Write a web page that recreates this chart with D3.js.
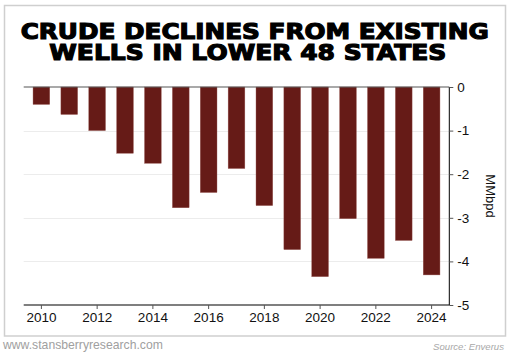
<!DOCTYPE html>
<html>
<head>
<meta charset="utf-8">
<script src="https://cdn.jsdelivr.net/npm/d3@7"></script>
<style>
  html, body { margin: 0; padding: 0; background: #fff; }
  svg { display: block; }
</style>
</head>
<body>
<svg id="chart" width="511" height="355"></svg>
<script>
const years = [2010, 2011, 2012, 2013, 2014, 2015, 2016, 2017, 2018, 2019, 2020, 2021, 2022, 2023, 2024];
const declines = [-0.40, -0.63, -1.00, -1.52, -1.75, -2.77, -2.42, -1.87, -2.72, -3.73, -4.35, -3.02, -3.93, -3.52, -4.31];
const yTicks = [0, -1, -2, -3, -4, -5];
const xTickYears = [2010, 2012, 2014, 2016, 2018, 2020, 2022, 2024];
const titleLines = ["CRUDE DECLINES FROM EXISTING", "WELLS IN LOWER 48 STATES"];
const yAxisLabel = "MMbpd";
const footerLeft = "www.stansberryresearch.com";
const footerRight = "Source: Enverus";

const svg = d3.select("#chart");
const plotLeft = 23.7, plotRight = 449.3, plotTop = 87, plotBottom = 305;

// frame
svg.append("rect").attr("x", 4.5).attr("y", 5.5).attr("width", 501).attr("height", 330.5)
  .attr("fill", "none").attr("stroke", "#cfcfcf").attr("stroke-width", 1.5);

// title (one text element, two lines)
const titleFont = "'DejaVu Sans', 'Liberation Sans', sans-serif";
const titleSpecs = [{y: 38.7, x0: 20.7, w: 468}, {y: 60, x0: 49.3, w: 397}];
const title = svg.append("text")
  .attr("font-family", titleFont).attr("font-weight", "bold").attr("font-size", 22)
  .attr("fill", "#000").attr("stroke", "#000").attr("stroke-width", 1.2);
titleLines.forEach((t, i) => {
  title.append("tspan")
    .attr("x", titleSpecs[i].x0).attr("y", titleSpecs[i].y)
    .attr("textLength", titleSpecs[i].w).attr("lengthAdjust", "spacingAndGlyphs")
    .text(t);
});

const x = d3.scaleBand().domain(years).range([plotLeft, plotRight]).paddingInner(0.4).paddingOuter(0.335);
const y = d3.scaleLinear().domain([-5, 0]).range([plotBottom, plotTop]);

// gridlines
svg.append("g").selectAll("line").data(yTicks.filter(d => d !== 0 && d !== -5)).join("line")
  .attr("x1", plotLeft).attr("x2", plotRight)
  .attr("y1", d => Math.round(y(d)) + 0.5).attr("y2", d => Math.round(y(d)) + 0.5)
  .attr("stroke", "#ececec").attr("stroke-width", 1);

// bars
svg.append("g").selectAll("rect").data(years).join("rect")
  .attr("x", d => x(d))
  .attr("width", x.bandwidth())
  .attr("y", y(0))
  .attr("height", (d, i) => y(declines[i]) - y(0))
  .attr("fill", "#661b17")
  .attr("stroke", "#9a5a56").attr("stroke-width", 0.4);

// zero line
svg.append("line").attr("x1", plotLeft).attr("x2", plotRight).attr("y1", y(0)).attr("y2", y(0))
  .attr("stroke", "#555").attr("stroke-width", 1.2);

// right y axis
const yAxis = d3.axisRight(y).tickValues(yTicks).tickSize(4).tickPadding(4).tickFormat(d3.format("d"));
const gy = svg.append("g").attr("transform", `translate(${plotRight},0)`).call(yAxis);
gy.select(".domain").attr("stroke", "#000").attr("d", `M0,${plotTop}V${plotBottom}`);
gy.selectAll(".tick line").attr("stroke", "#555");
gy.selectAll(".tick text").attr("font-family", "'Liberation Sans', Arial, sans-serif")
  .attr("font-size", 13.5).attr("fill", "#111").text(d => d === 0 ? "0" : "-" + Math.abs(d));

// x axis
const xPos = d => x(d) + x.bandwidth() / 2;
const gx = svg.append("g").attr("transform", `translate(0,${plotBottom})`);
gx.append("line").attr("x1", plotLeft).attr("x2", plotRight).attr("y1", 0).attr("y2", 0)
  .attr("stroke", "#000").attr("stroke-width", 1.2);
const xt = gx.selectAll("g.tk").data(xTickYears).join("g").attr("class", "tk")
  .attr("transform", d => `translate(${xPos(d)},0)`);
xt.append("line").attr("y1", 0).attr("y2", 4).attr("stroke", "#555");
xt.append("text").attr("y", 17.3).attr("text-anchor", "middle")
  .attr("font-family", "'Liberation Sans', Arial, sans-serif").attr("font-size", 13.5).attr("fill", "#111")
  .text(d => d);

// y label
svg.append("text").attr("transform", `translate(486,${(plotTop + plotBottom) / 2}) rotate(90)`)
  .attr("text-anchor", "middle")
  .attr("font-family", "'Liberation Sans', Arial, sans-serif").attr("font-size", 13).attr("fill", "#111")
  .text(yAxisLabel);

// footer
svg.append("text").attr("x", 3).attr("y", 349)
  .attr("font-family", "'Liberation Sans', Arial, sans-serif").attr("font-size", 12.2).attr("fill", "#a0a0a0")
  .text(footerLeft);
svg.append("text").attr("x", 504).attr("y", 350).attr("text-anchor", "end")
  .attr("font-family", "'Liberation Sans', Arial, sans-serif").attr("font-size", 9.6).attr("font-style", "italic")
  .attr("fill", "#a8a8a8")
  .text(footerRight);
</script>
</body>
</html>
